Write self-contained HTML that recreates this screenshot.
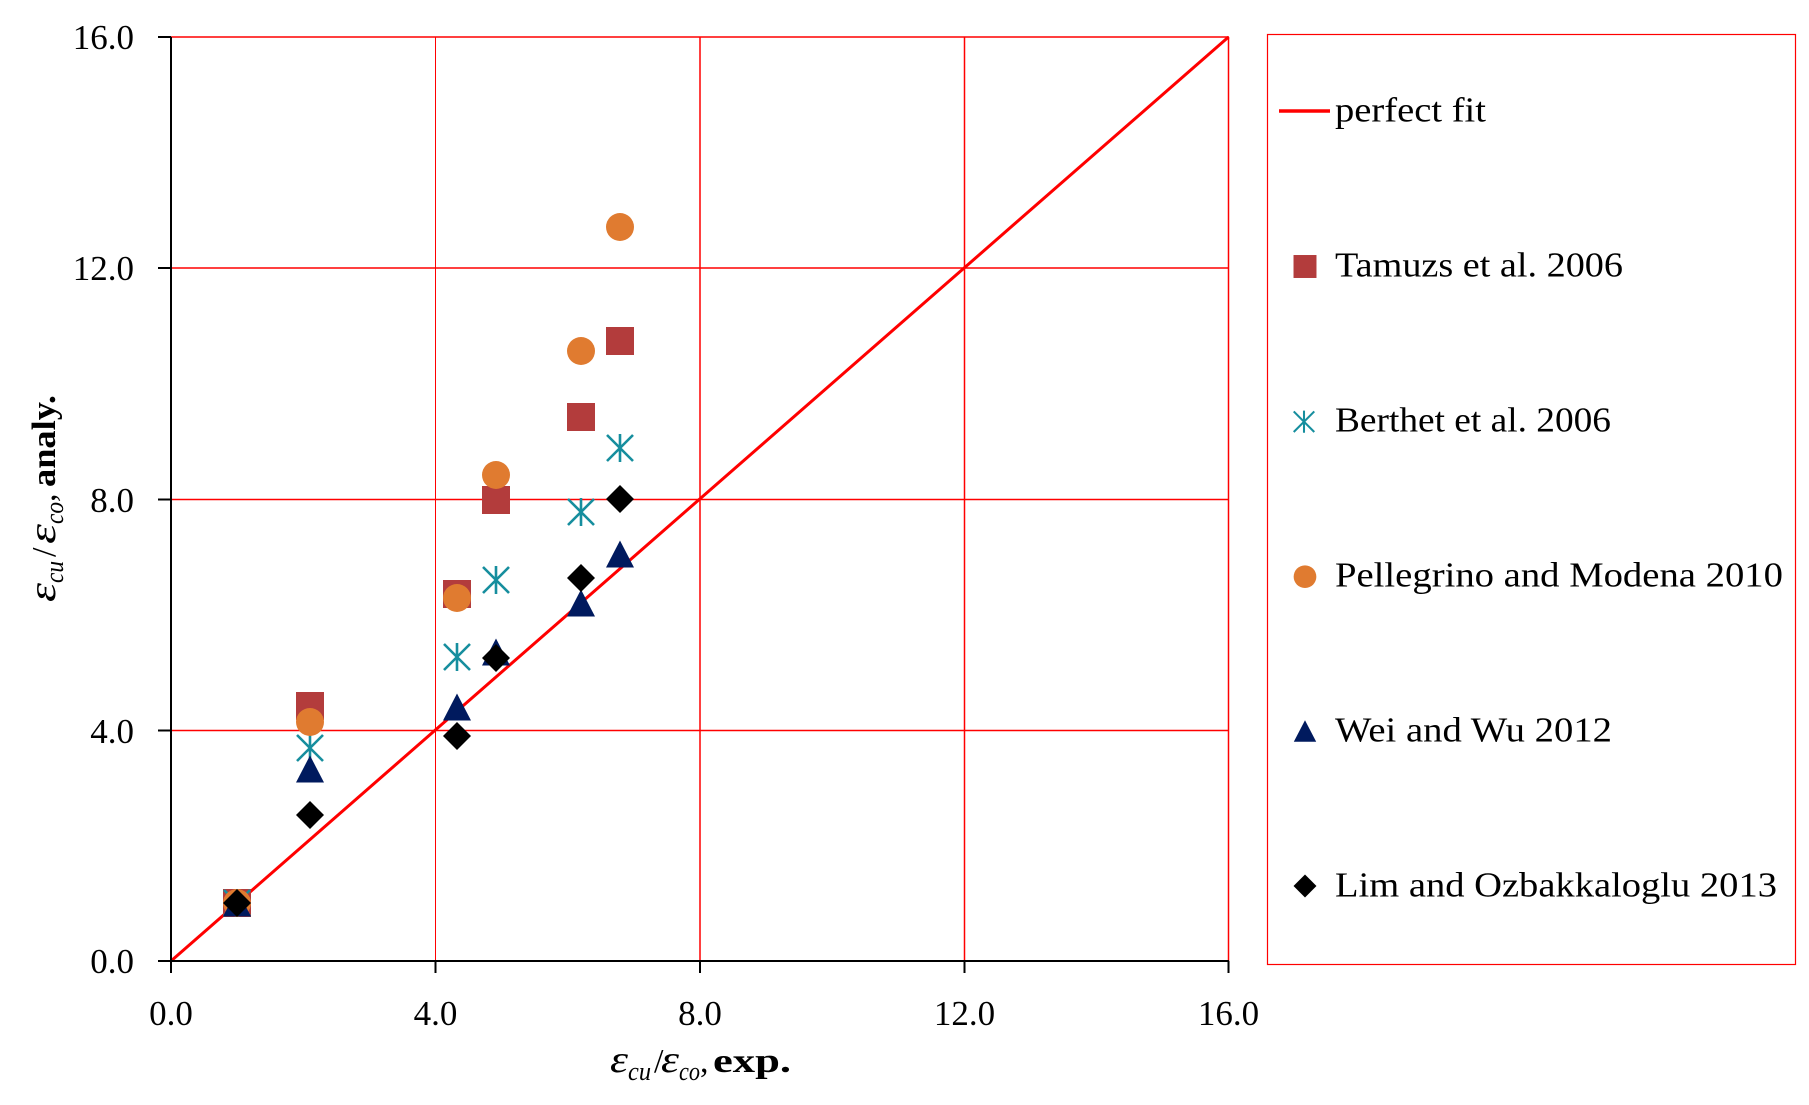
<!DOCTYPE html>
<html>
<head>
<meta charset="utf-8">
<style>
  html, body { margin: 0; padding: 0; background: #ffffff; }
  svg { display: block; }
  text { font-family: "Liberation Serif", "DejaVu Serif", serif; fill: #000; }
</style>
</head>
<body>
<svg width="1809" height="1105" viewBox="0 0 1809 1105" xmlns="http://www.w3.org/2000/svg">
  <defs>
    <rect id="sq" x="-14" y="-14" width="28" height="28" fill="#B33C3C"/>
    <circle id="ci" r="14" fill="#E07B30"/>
    <path id="st" d="M0,-14V14M-13,-13L13,13M-13,13L13,-13" stroke="#168E9E" stroke-width="2.6" fill="none"/>
    <path id="tr" d="M0,-13.5L14,13.5H-14Z" fill="#001A5E"/>
    <path id="di" d="M0,-14L14,0L0,14L-14,0Z" fill="#000000"/>
  </defs>

  <rect x="0" y="0" width="1809" height="1105" fill="#ffffff"/>

  <!-- gridlines -->
  <g stroke="#FF0000" fill="none">
    <line x1="171" y1="730.5" x2="1229" y2="730.5" stroke-width="1.5"/>
    <line x1="171" y1="499.5" x2="1229" y2="499.5" stroke-width="1.5"/>
    <line x1="171" y1="268" x2="1229" y2="268" stroke-width="1.5"/>
    <line x1="171" y1="37" x2="1229" y2="37" stroke-width="1.5"/>
    <line x1="435.5" y1="37" x2="435.5" y2="961" stroke-width="1"/>
    <line x1="700" y1="37" x2="700" y2="961" stroke-width="1.5"/>
    <line x1="964.5" y1="37" x2="964.5" y2="961" stroke-width="1.5"/>
    <line x1="1228.5" y1="37" x2="1228.5" y2="961" stroke-width="1.5"/>
  </g>

  <!-- perfect fit line -->
  <line x1="171" y1="961" x2="1228.5" y2="37" stroke="#FF0000" stroke-width="3"/>

  <!-- axes -->
  <g stroke="#000" stroke-width="2" fill="none">
    <line x1="171" y1="37" x2="171" y2="973"/>
    <line x1="158" y1="961" x2="1229" y2="961"/>
    <line x1="158" y1="37" x2="171" y2="37"/>
    <line x1="158" y1="268" x2="171" y2="268"/>
    <line x1="158" y1="499.5" x2="171" y2="499.5"/>
    <line x1="158" y1="730.5" x2="171" y2="730.5"/>
    <line x1="435.5" y1="961" x2="435.5" y2="973"/>
    <line x1="700" y1="961" x2="700" y2="973"/>
    <line x1="964.5" y1="961" x2="964.5" y2="973"/>
    <line x1="1228.5" y1="961" x2="1228.5" y2="973"/>
  </g>

  <!-- y tick labels -->
  <g font-size="35" text-anchor="end">
    <text x="134" y="49">16.0</text>
    <text x="134" y="280">12.0</text>
    <text x="134" y="512">8.0</text>
    <text x="134" y="743">4.0</text>
    <text x="134" y="973">0.0</text>
  </g>
  <!-- x tick labels -->
  <g font-size="35" text-anchor="middle">
    <text x="171" y="1025">0.0</text>
    <text x="435.5" y="1025">4.0</text>
    <text x="700" y="1025">8.0</text>
    <text x="964.5" y="1025">12.0</text>
    <text x="1228.5" y="1025">16.0</text>
  </g>

  <!-- x axis title -->
  <g transform="translate(610,1072)">
    <text x="0" y="0" font-size="38" font-style="italic" textLength="18" lengthAdjust="spacingAndGlyphs">ε</text>
    <text x="18" y="8" font-size="26" font-style="italic" textLength="23" lengthAdjust="spacingAndGlyphs">cu</text>
    <text x="44" y="0" font-size="34">/</text>
    <text x="51" y="0" font-size="38" font-style="italic" textLength="18" lengthAdjust="spacingAndGlyphs">ε</text>
    <text x="69" y="8" font-size="26" font-style="italic" textLength="21" lengthAdjust="spacingAndGlyphs">co</text>
    <text x="90" y="0" font-size="34">,</text>
    <text x="103" y="0" font-size="34" font-weight="bold" textLength="78" lengthAdjust="spacingAndGlyphs">exp.</text>
  </g>

  <!-- y axis title -->
  <g transform="translate(55,602) rotate(-90)">
    <text x="0" y="0" font-size="38" font-style="italic" textLength="19" lengthAdjust="spacingAndGlyphs">ε</text>
    <text x="19" y="8" font-size="26" font-style="italic" textLength="22" lengthAdjust="spacingAndGlyphs">cu</text>
    <text x="45" y="0" font-size="34">/</text>
    <text x="58" y="0" font-size="38" font-style="italic" textLength="20" lengthAdjust="spacingAndGlyphs">ε</text>
    <text x="78" y="8" font-size="26" font-style="italic" textLength="22" lengthAdjust="spacingAndGlyphs">co</text>
    <text x="100" y="0" font-size="34">,</text>
    <text x="115" y="0" font-size="34" font-weight="bold" textLength="92" lengthAdjust="spacingAndGlyphs">analy.</text>
  </g>

  <!-- series: Tamuzs (squares) -->
  <use href="#sq" transform="translate(237,903)"/>
  <use href="#sq" transform="translate(310,706)"/>
  <use href="#sq" transform="translate(457,594)"/>
  <use href="#sq" transform="translate(496,500)"/>
  <use href="#sq" transform="translate(581,417)"/>
  <use href="#sq" transform="translate(620,341)"/>

  <!-- Berthet (stars) -->
  <use href="#st" transform="translate(237,903)"/>
  <use href="#st" transform="translate(310,748)"/>
  <use href="#st" transform="translate(457,657)"/>
  <use href="#st" transform="translate(496,580)"/>
  <use href="#st" transform="translate(581,512)"/>
  <use href="#st" transform="translate(620,448)"/>

  <!-- Pellegrino (circles) -->
  <use href="#ci" transform="translate(237,903)"/>
  <use href="#ci" transform="translate(310,722)"/>
  <use href="#ci" transform="translate(457,598)"/>
  <use href="#ci" transform="translate(496,475)"/>
  <use href="#ci" transform="translate(581,351)"/>
  <use href="#ci" transform="translate(620,227)"/>

  <!-- Wei (triangles) -->
  <use href="#tr" transform="translate(237,903)"/>
  <use href="#tr" transform="translate(310,769)"/>
  <use href="#tr" transform="translate(457,707)"/>
  <use href="#tr" transform="translate(496,652)"/>
  <use href="#tr" transform="translate(581,603)"/>
  <use href="#tr" transform="translate(620,554)"/>

  <!-- Lim (diamonds) -->
  <use href="#di" transform="translate(237,903)"/>
  <use href="#di" transform="translate(310,815)"/>
  <use href="#di" transform="translate(457,736)"/>
  <use href="#di" transform="translate(496,658)"/>
  <use href="#di" transform="translate(581,578)"/>
  <use href="#di" transform="translate(620,499)"/>

  <!-- legend -->
  <rect x="1267.5" y="34.5" width="528" height="930" fill="none" stroke="#FF0000" stroke-width="1.2"/>
  <line x1="1279" y1="111" x2="1330" y2="111" stroke="#FF0000" stroke-width="3.5"/>
  <use href="#sq" transform="translate(1305,266.5) scale(0.82)"/>
  <use href="#st" transform="translate(1304,421.7) scale(0.79)"/>
  <use href="#ci" transform="translate(1305,576.7) scale(0.81)"/>
  <use href="#tr" transform="translate(1305,731) scale(0.8)"/>
  <use href="#di" transform="translate(1305,886) scale(0.82)"/>

  <g font-size="35">
    <text x="1335" y="121.7" textLength="151" lengthAdjust="spacingAndGlyphs">perfect fit</text>
    <text x="1335" y="276.7" textLength="288" lengthAdjust="spacingAndGlyphs">Tamuzs et al. 2006</text>
    <text x="1335" y="431.7" textLength="276" lengthAdjust="spacingAndGlyphs">Berthet et al. 2006</text>
    <text x="1335" y="586.7" textLength="448" lengthAdjust="spacingAndGlyphs">Pellegrino and Modena 2010</text>
    <text x="1335" y="741.7" textLength="277" lengthAdjust="spacingAndGlyphs">Wei and Wu 2012</text>
    <text x="1335" y="896.7" textLength="442" lengthAdjust="spacingAndGlyphs">Lim and Ozbakkaloglu 2013</text>
  </g>
</svg>
</body>
</html>
